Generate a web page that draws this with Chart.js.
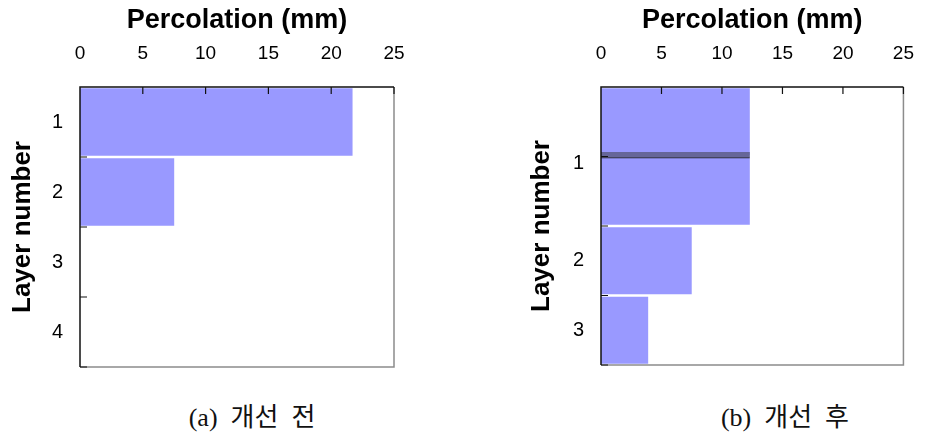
<!DOCTYPE html>
<html>
<head>
<meta charset="utf-8">
<script src="https://cdn.jsdelivr.net/npm/chart.js@4/dist/chart.umd.min.js"></script>
<style>
  html, body { margin: 0; padding: 0; background: #fff; }
  body { width: 928px; height: 436px; position: relative; overflow: hidden; }
  canvas { position: absolute; top: 0; }
  #before { left: 0; }
  #after { left: 464px; }
  .cap {
    position: absolute; top: 396px; width: 260px; text-align: center;
    font-family: "Liberation Serif", "Noto Sans CJK KR", serif;
    font-size: 26px; color: #111; white-space: pre;
  }
</style>
</head>
<body>
<canvas id="before" width="464" height="380"></canvas>
<canvas id="after" width="464" height="380"></canvas>
<div class="cap" style="left:122px">(a)  개선  전</div>
<div class="cap" style="left:655px">(b)  개선  후</div>
<script>
(function() {
  // (a) before improvement: bar centres on the layer axis and percolation (mm)
  const beforePos = [0.5, 1.5];
  const beforeValues = [21.7, 7.5];
  const beforeTickPos = [0.5, 1.5, 2.5, 3.5];
  const beforeTickText = ['1', '2', '3', '4'];

  // (b) after improvement
  const afterPos = [0.5, 1.5, 2.5, 3.5];
  const afterValues = [12.3, 12.3, 7.5, 3.9];
  const afterStripPos = [0.98];
  const afterStripValues = [12.3];
  const afterTickPos = [1.1, 2.5, 3.5];
  const afterTickText = ['1', '2', '3'];

  const layerMin = 0, layerMax = 4;
  const xMin = 0, xMax = 25, xStep = 5;

  const FONT = "'Liberation Sans', Arial, sans-serif";
  const BAR = '#9999ff';

  // frame + inward tick marks, positions taken from the scales
  const framePlugin = {
    id: 'frame',
    afterDatasetsDraw(chart) {
      const ctx = chart.ctx, a = chart.chartArea;
      const x = chart.scales.x, y = chart.scales.y;
      ctx.save();
      ctx.lineWidth = 1.5;
      ctx.strokeStyle = '#8c8c8c';
      ctx.beginPath();
      ctx.moveTo(a.right, a.top); ctx.lineTo(a.right, a.bottom); ctx.lineTo(a.left, a.bottom);
      ctx.stroke();
      ctx.strokeStyle = '#111';
      ctx.beginPath();
      ctx.moveTo(a.left, a.bottom); ctx.lineTo(a.left, a.top); ctx.lineTo(a.right, a.top);
      ctx.stroke();
      ctx.lineWidth = 1.2;
      ctx.beginPath();
      for (let v = xMin + xStep; v <= xMax; v += xStep) {
        const px = x.getPixelForValue(v);
        ctx.moveTo(px, a.top); ctx.lineTo(px, a.top + 7);
      }
      for (let v = layerMin + 1; v <= layerMax; v++) {
        const py = y.getPixelForValue(v);
        ctx.moveTo(a.left, py); ctx.lineTo(a.left + 7, py);
      }
      ctx.stroke();
      ctx.restore();
    }
  };

  function makeChart(id, opts) {
    const datasets = [{
      data: opts.pos.map((p, i) => ({ x: opts.values[i], y: p })),
      backgroundColor: BAR,
      borderWidth: 0,
      grouped: false,
      order: 2,
      barPercentage: 0.965,
      categoryPercentage: 1
    }];
    if (opts.stripPos) {
      datasets.push({
        data: opts.stripPos.map((p, i) => ({ x: opts.stripValues[i], y: p })),
        backgroundColor: '#666699',
        borderColor: '#222',
        borderWidth: { bottom: 1, top: 0, left: 0, right: 0 },
        borderSkipped: false,
        grouped: false,
        order: 1,
        barThickness: 6,
        yAxisID: 'y2'
      });
    }
    const yScale = {
      type: 'linear',
      min: layerMin, max: layerMax, reverse: true, offset: false,
      afterBuildTicks(axis) { axis.ticks = opts.tickPos.map(v => ({ value: v })); },
      afterFit(axis) {
        axis.width = opts.yWidth;
        axis.paddingTop = 0;
        axis.paddingBottom = 0;
      },
      grid: { display: false },
      border: { display: false },
      ticks: {
        autoSkip: false,
        padding: 9,
        color: '#000',
        font: { family: FONT, size: 20 },
        callback: (v, i) => opts.tickText[i]
      },
      title: {
        display: true, text: 'Layer number', color: '#000',
        padding: { top: 7, bottom: 0 },
        font: { family: FONT, size: 26, weight: 'bold' }
      }
    };
    const scales = {
      x: {
        type: 'linear', position: 'top',
        min: xMin, max: xMax,
        afterFit(axis) { axis.height = 87; },
        grid: { display: false },
        border: { display: false },
        ticks: { stepSize: xStep, padding: 14, color: '#000', font: { family: FONT, size: 19 } },
        title: {
          display: true, text: 'Percolation (mm)', color: '#000',
          padding: { top: 4, bottom: 0 },
          font: { family: FONT, size: 27, weight: 'bold' }
        }
      },
      y: yScale
    };
    if (opts.stripPos) {
      scales.y2 = {
        type: 'linear', min: layerMin, max: layerMax, reverse: true, offset: false, display: false
      };
    }
    return new Chart(document.getElementById(id).getContext('2d'), {
      type: 'bar',
      data: { datasets },
      options: {
        indexAxis: 'y',
        responsive: false,
        animation: false,
        devicePixelRatio: 1,
        layout: { padding: opts.padding },
        plugins: { legend: { display: false }, tooltip: { enabled: false } },
        scales
      },
      plugins: [framePlugin]
    });
  }

  makeChart('before', {
    pos: beforePos, values: beforeValues,
    tickPos: beforeTickPos, tickText: beforeTickText,
    yWidth: 80,
    padding: { left: 0, right: 70, top: 0, bottom: 13 }
  });

  makeChart('after', {
    pos: afterPos, values: afterValues,
    stripPos: afterStripPos, stripValues: afterStripValues,
    tickPos: afterTickPos, tickText: afterTickText,
    yWidth: 82,
    padding: { left: 55, right: 15, top: 0, bottom: 15 }
  });
})();
</script>
</body>
</html>
